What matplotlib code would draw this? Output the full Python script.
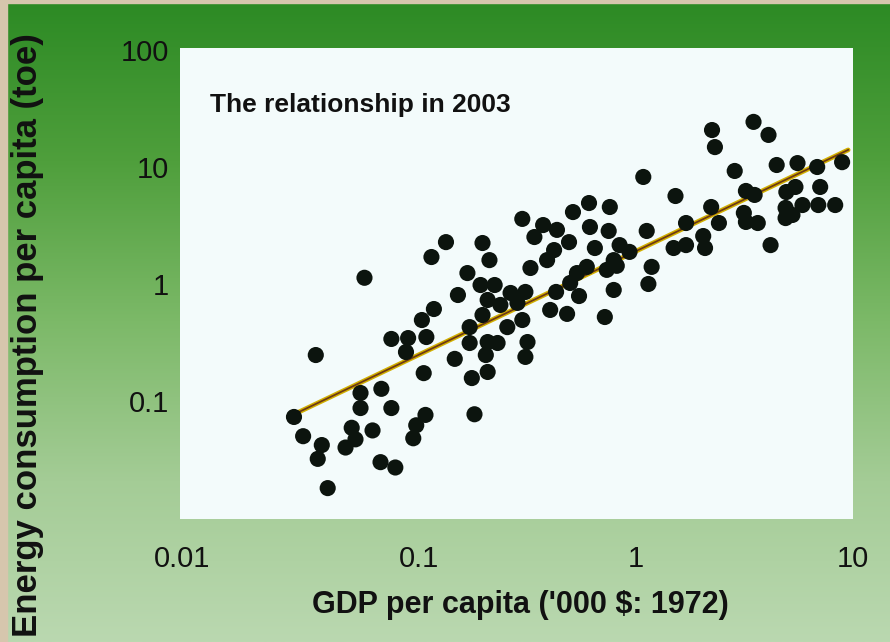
import matplotlib
matplotlib.use('Agg')
import matplotlib.pyplot as plt
from matplotlib.colors import LinearSegmentedColormap
from matplotlib.transforms import ScaledTranslation
import numpy as np

# GDP per capita ('000 $, 1972 prices) and energy use per capita (toe), 2003
gdp = [0.0265, 0.0292, 0.0356, 0.0341, 0.0379, 0.0334, 0.0537, 0.0537, 0.0670, 0.0745,
       0.0489, 0.0509, 0.0458, 0.0610, 0.0664, 0.0777, 0.105, 0.107, 0.097, 0.094,
       0.146, 0.175, 0.180, 0.056, 0.114, 0.133, 0.117, 0.103, 0.0745, 0.089,
       0.108, 0.087, 0.171, 0.167, 0.151, 0.192, 0.196, 0.211, 0.223, 0.207,
       0.264, 0.309, 0.196, 0.237, 0.284, 0.299, 0.255, 0.207, 0.230, 0.316,
       0.309, 0.203, 0.207, 0.171, 0.299, 0.373, 0.432, 0.340, 0.491, 0.419,
       0.389, 0.326, 0.512, 0.607, 0.757, 0.613, 0.748, 1.12, 0.646, 0.840,
       0.933, 0.789, 1.18, 0.815, 0.733, 0.593, 0.534, 0.497, 1.14, 0.789,
       0.546, 0.428, 0.402, 0.481, 0.718, 1.08, 2.24, 3.48, 4.08, 2.31,
       2.85, 4.45, 5.55, 6.84, 8.91, 1.52, 3.21, 3.52, 4.93, 5.43,
       7.06, 2.22, 3.14, 4.89, 5.85, 6.92, 8.28, 4.89, 5.26, 3.21,
       3.64, 1.70, 2.41, 2.04, 2.08, 1.49, 1.70, 4.17]
energy = [0.073, 0.050, 0.042, 0.032, 0.018, 0.247, 0.117, 0.087, 0.127, 0.087,
          0.059, 0.047, 0.040, 0.056, 0.030, 0.027, 0.173, 0.076, 0.062, 0.048,
          0.229, 0.157, 0.077, 1.13, 1.70, 2.28, 0.611, 0.492, 0.339, 0.345,
          0.352, 0.262, 0.428, 1.24, 0.805, 0.98, 2.24, 1.60, 0.98, 0.730,
          0.838, 0.855, 0.543, 0.662, 0.689, 0.492, 0.428, 0.319, 0.313, 0.319,
          0.238, 0.247, 0.177, 0.313, 3.60, 3.19, 2.90, 2.52, 2.28, 1.95,
          1.60, 1.37, 4.12, 4.92, 4.55, 3.07, 2.84, 2.84, 2.03, 2.15,
          1.88, 1.60, 1.40, 1.43, 1.32, 1.40, 1.24, 1.02, 1.00, 0.889,
          0.789, 0.855, 0.600, 0.555, 0.522, 8.22, 20.7, 24.3, 18.8, 14.8,
          9.25, 10.4, 10.8, 10.0, 11.0, 5.65, 6.24, 5.77, 6.11, 6.75,
          6.75, 4.55, 4.05, 4.47, 4.73, 4.73, 4.73, 3.66, 3.89, 3.39,
          3.32, 3.32, 3.32, 2.57, 2.03, 2.03, 2.15, 2.15]

# fitted trend line end points
fit_x = [0.025, 9.5]
fit_y = [0.073, 14.0]

x_ticks = [0.01, 0.1, 1, 10]
x_tick_labels = ['0.01', '0.1', '1', '10']
y_ticks = [0.1, 1, 10, 100]
y_tick_labels = ['0.1', '1', '10', '100']

bold_font = ['Liberation Sans', 'DejaVu Sans']

fig = plt.figure(figsize=(8.9, 6.42), dpi=100)

# green page background
bg = fig.add_axes([0, 0, 1, 1])
bg_cmap = LinearSegmentedColormap.from_list(
    'page', ['#2c8a24', '#4f9f3c', '#7cb968', '#a4cc96', '#bad8b0'])
bg.imshow(np.linspace(0, 1, 256).reshape(-1, 1), aspect='auto', cmap=bg_cmap,
          extent=[0, 1, 0, 1])
bg.axvspan(0, 0.008, color='#d6c6ad')
bg.axhspan(0.995, 1, color='#d6c6ad')
bg.set_xlim(0, 1)
bg.set_ylim(0, 1)
bg.axis('off')

ax = fig.add_axes([0.2022, 0.1916, 0.7562, 0.7336])
ax.set_facecolor('#f3fbfb')
ax.set_xscale('log')
ax.set_yscale('log')
ax.set_xlim(0.0079, 9.6)
ax.set_ylim(0.0098, 104)

ax.plot(fit_x, fit_y, color='#d2b000', linewidth=3.4, solid_capstyle='round', zorder=2)
ax.plot(fit_x, fit_y, color='#6e3a14', linewidth=1.3, zorder=3)
ax.scatter(gdp, energy, s=135, color='#0c140e', edgecolors='none', zorder=4)

ax.set_xticks(x_ticks)
ax.set_xticklabels(x_tick_labels)
ax.set_yticks(y_ticks)
ax.set_yticklabels(y_tick_labels)
ax.minorticks_off()
ax.tick_params(axis='both', length=0, labelsize=21)
ax.tick_params(axis='x', pad=19)
ax.tick_params(axis='y', pad=8)
for lab in ax.get_xticklabels() + ax.get_yticklabels():
    lab.set_family(bold_font)
    lab.set_color('#111111')
# the printed "0.01" sits a little left of its decade line
first = ax.get_xticklabels()[0]
first.set_transform(first.get_transform() + ScaledTranslation(-0.2, 0, fig.dpi_scale_trans))
for sp in ax.spines.values():
    sp.set_visible(False)

ax.text(0.045, 0.88, 'The relationship in 2003', transform=ax.transAxes,
        family=bold_font, fontweight='bold', fontsize=19, color='#111111',
        ha='left', va='center')

fig.text(520 / 890, 1 - 605 / 642, "GDP per capita ('000 $: 1972)", family=bold_font,
         fontweight='bold', fontsize=22, color='#111111', ha='center', va='center')
fig.text(28 / 890, 1 - 335 / 642, 'Energy consumption per capita (toe)', family=bold_font,
         fontweight='bold', fontsize=25, color='#111111', rotation=90,
         ha='center', va='center')

plt.savefig('out.png', dpi=100)
plt.close()
